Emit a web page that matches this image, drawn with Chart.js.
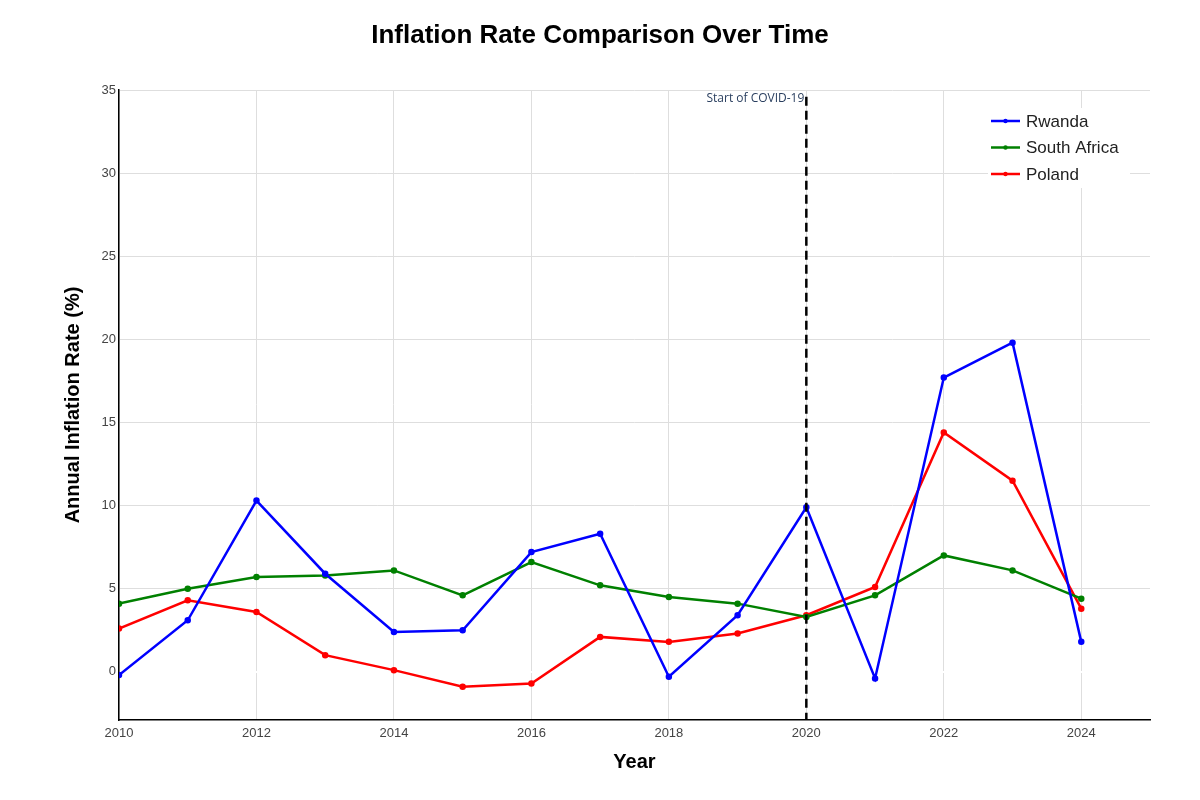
<!DOCTYPE html>
<html>
<head>
<meta charset="utf-8">
<script src="https://cdn.jsdelivr.net/npm/chart.js@4"></script>
<style>
  body { margin: 0; background: #fff; }
  canvas { display: block; }
</style>
</head>
<body>
<canvas id="grafica" width="1200" height="800"></canvas>
<script>
const years = [2010, 2011, 2012, 2013, 2014, 2015, 2016, 2017, 2018, 2019, 2020, 2021, 2022, 2023, 2024];
const rwanda = [-0.2, 3.1, 10.3, 5.9, 2.4, 2.5, 7.2, 8.3, -0.3, 3.4, 9.9, -0.4, 17.7, 19.8, 1.8];
const southAfrica = [4.1, 5.0, 5.7, 5.8, 6.1, 4.6, 6.6, 5.2, 4.5, 4.1, 3.3, 4.6, 7.0, 6.1, 4.4];
const poland = [2.6, 4.3, 3.6, 1.0, 0.1, -0.9, -0.7, 2.1, 1.8, 2.3, 3.4, 5.1, 14.4, 11.5, 3.8];
const yTicks = [0, 5, 10, 15, 20, 25, 30, 35];
const xTicks = [2010, 2012, 2014, 2016, 2018, 2020, 2022, 2024];
const covidYear = 2020;

const fuente = '"Liberation Sans", Arial, sans-serif';

function serie(label, valores, color) {
    return {
        label: label,
        data: years.map((y, i) => ({ x: y, y: valores[i] })),
        borderColor: color,
        backgroundColor: color,
        borderWidth: 2.5,
        pointRadius: 2,
        pointHoverRadius: 2,
        tension: 0,
    };
}

// dibuja titulo, ejes, linea covid y leyenda
const extras = {
    id: 'extras',
    afterDraw(chart) {
        const ctx = chart.ctx;
        const area = chart.chartArea;
        const xs = chart.scales.x;
        const ys = chart.scales.y;
        ctx.save();

        // linea vertical COVID
        const xc = xs.getPixelForValue(covidYear);
        ctx.strokeStyle = '#000';
        ctx.lineWidth = 2.5;
        ctx.setLineDash([9, 5]);
        ctx.beginPath();
        ctx.moveTo(xc, ys.getPixelForValue(34.6));
        ctx.lineTo(xc, area.bottom);
        ctx.stroke();
        ctx.setLineDash([]);

        ctx.fillStyle = '#2a3f5f';
        ctx.font = '12px "Open Sans", sans-serif';
        ctx.textAlign = 'right';
        ctx.textBaseline = 'middle';
        ctx.fillText('Start of COVID-19', xc - 2, 99);

        // titulo
        ctx.fillStyle = '#000';
        ctx.font = 'bold 26px ' + fuente;
        ctx.textAlign = 'center';
        ctx.fillText('Inflation Rate Comparison Over Time', 600, 36);

        // titulos de ejes
        ctx.font = 'bold 20px ' + fuente;
        ctx.fillText('Year', (area.left + area.right) / 2, 762);
        ctx.save();
        ctx.translate(73, (area.top + area.bottom) / 2);
        ctx.rotate(-Math.PI / 2);
        ctx.fillText('Annual Inflation Rate (%)', 0, 0);
        ctx.restore();

        // leyenda
        ctx.fillStyle = '#fff';
        ctx.fillRect(988, 108, 142, 80);
        ctx.font = '17px ' + fuente;
        ctx.textAlign = 'left';
        chart.data.datasets.forEach((ds, i) => {
            const yy = 121 + i * 26.5;
            ctx.strokeStyle = ds.borderColor;
            ctx.lineWidth = 2.5;
            ctx.beginPath();
            ctx.moveTo(991, yy);
            ctx.lineTo(1020, yy);
            ctx.stroke();
            ctx.fillStyle = ds.borderColor;
            ctx.beginPath();
            ctx.arc(1005.5, yy, 2.2, 0, Math.PI * 2);
            ctx.fill();
            ctx.fillStyle = '#222';
            ctx.fillText(ds.label, 1026, yy + 1);
        });
        ctx.restore();
    }
};

new Chart('grafica', {
    type: 'line',
    data: {
        datasets: [
            serie('Rwanda', rwanda, '#0000ff'),
            serie('South Africa', southAfrica, '#008000'),
            serie('Poland', poland, '#ff0000'),
        ]
    },
    options: {
        responsive: false,
        animation: false,
        devicePixelRatio: 1,
        layout: {
            padding: { left: 0, right: 50, top: 90, bottom: 0 }
        },
        plugins: {
            legend: { display: false },
            title: { display: false },
            tooltip: { enabled: false }
        },
        scales: {
            x: {
                type: 'linear',
                min: 2010,
                max: 2025,
                afterFit(scale) { scale.height = 80; },
                afterBuildTicks(scale) { scale.ticks = xTicks.map(v => ({ value: v })); },
                ticks: {
                    color: '#444',
                    font: { size: 13, family: fuente },
                    padding: 6,
                    maxRotation: 0,
                    autoSkip: false,
                    callback: v => String(v)
                },
                grid: {
                    color: '#dedede',
                    lineWidth: 1,
                    drawTicks: false
                },
                border: { color: '#000', width: 1.5 }
            },
            y: {
                min: -2.9,
                max: 35,
                afterFit(scale) { scale.width = 119; },
                afterBuildTicks(scale) { scale.ticks = yTicks.map(v => ({ value: v })); },
                ticks: {
                    color: '#444',
                    font: { size: 13, family: fuente },
                    padding: 3,
                    autoSkip: false,
                    callback: v => String(v)
                },
                grid: {
                    color: ctx => (ctx.tick && ctx.tick.value === 0 ? '#ffffff' : '#dedede'),
                    lineWidth: ctx => (ctx.tick && ctx.tick.value === 0 ? 2 : 1),
                    drawTicks: false
                },
                border: { color: '#000', width: 1.5 }
            }
        }
    },
    plugins: [extras]
});
</script>
</body>
</html>
